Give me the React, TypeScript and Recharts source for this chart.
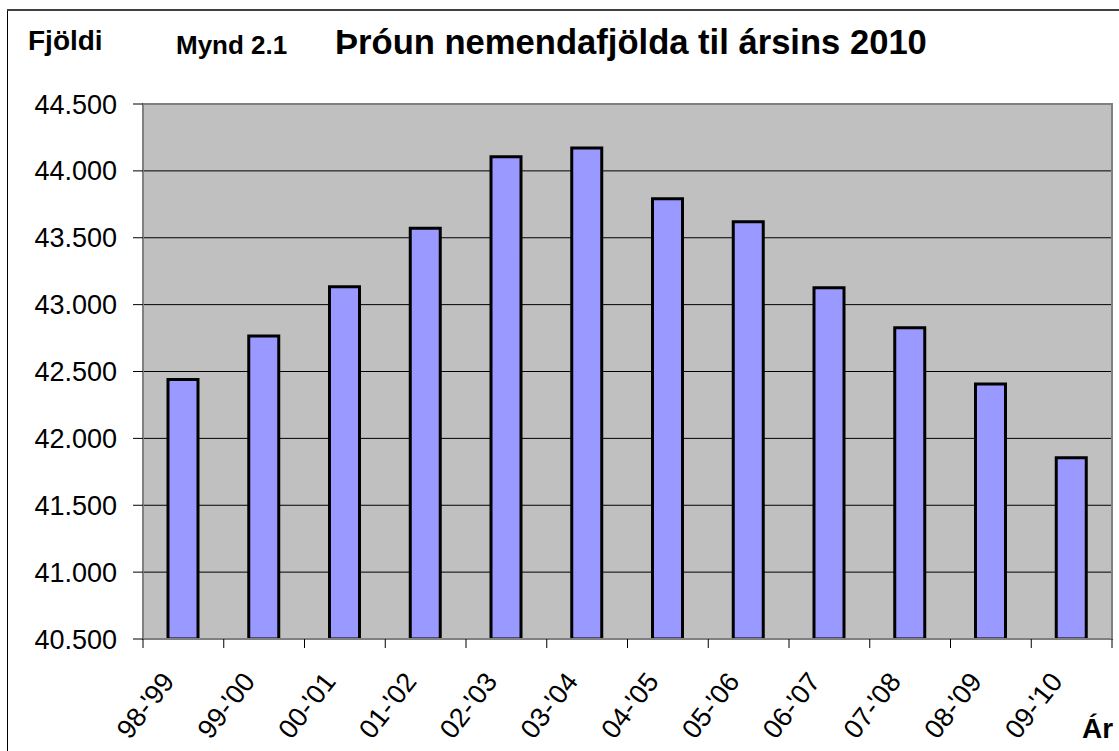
import React from 'react';
import { BarChart, Bar, XAxis, YAxis, CartesianGrid, ReferenceArea } from 'recharts';

const categories = ["98-'99", "99-'00", "00-'01", "01-'02", "02-'03", "03-'04", "04-'05", "05-'06", "06-'07", "07-'08", "08-'09", "09-'10"];
const students = [42440, 42765, 43134, 43571, 44106, 44171, 43792, 43620, 43127, 42828, 42407, 41856];
const yTicks = [40500, 41000, 41500, 42000, 42500, 43000, 43500, 44000, 44500];

const titlePrefix = 'Mynd 2.1';
const titleMain = 'Þróun nemendafjölda til ársins 2010';
const yLabel = 'Fjöldi';
const xLabel = 'Ár';

const data = categories.map((c, i) => ({ year: c, value: students[i] }));

const W = 1119;
const H = 751;
const PLOT_LEFT = 143;
const PLOT_RIGHT = 1112;
const PLOT_TOP = 104;
const PLOT_BOTTOM = 639;
const FONT = 'Arial, "Liberation Sans", Helvetica, sans-serif';

const fmt = (v: number) => `${Math.floor(v / 1000)}.${String(v % 1000).padStart(3, '0')}`;

const XTick = (props: any) => {
  const { x, y, payload } = props;
  const band = (PLOT_RIGHT - PLOT_LEFT) / categories.length;
  const idx = categories.indexOf(payload.value);
  const tx = x - 8;
  const ty = y + 43;
  return (
    <g>
      <line x1={x - band / 2} x2={x - band / 2} y1={y} y2={y + 9} stroke="#000" strokeWidth={1} />
      {idx === categories.length - 1 && (
        <line x1={x + band / 2} x2={x + band / 2} y1={y} y2={y + 9} stroke="#000" strokeWidth={1} />
      )}
      <text
        x={tx}
        y={ty}
        transform={`rotate(-52, ${tx}, ${ty})`}
        textAnchor="end"
        fontSize={27}
        fontFamily={FONT}
        fill="#000"
      >
        {payload.value}
      </text>
    </g>
  );
};

export default function App() {
  return (
    <div style={{ position: 'absolute', left: 0, top: 0, width: W, height: H, background: '#fff', overflow: 'hidden' }}>
      <BarChart
        width={W}
        height={H}
        data={data}
        margin={{ top: PLOT_TOP, right: W - PLOT_RIGHT, bottom: 0, left: 0 }}
        barCategoryGap="30%"
      >
        <CartesianGrid vertical={false} stroke="#000" strokeWidth={1} fill="#C0C0C0" fillOpacity={1} strokeOpacity={1} />
        <XAxis
          dataKey="year"
          height={H - PLOT_BOTTOM}
          interval={0}
          tickSize={0}
          tickMargin={0}
          tickLine={false}
          axisLine={{ stroke: '#808080', strokeWidth: 2 }}
          tick={<XTick />}
        />
        <YAxis
          width={PLOT_LEFT}
          domain={[40500, 44500]}
          ticks={yTicks}
          allowDataOverflow
          interval={0}
          tickFormatter={fmt}
          tickSize={10}
          tickMargin={16}
          tickLine={{ stroke: '#000', strokeWidth: 1 }}
          axisLine={{ stroke: '#808080', strokeWidth: 2 }}
          tick={{ fontSize: 27, fill: '#000', fontFamily: FONT }}
        />
        <Bar dataKey="value" fill="#9999FF" stroke="#000" strokeWidth={3} barSize={30} isAnimationActive={false} />
        <ReferenceArea y1={40500} y2={44500} fill="none" stroke="#808080" strokeWidth={2} ifOverflow="visible" />
      </BarChart>
      <svg width={W} height={H} style={{ position: 'absolute', left: 0, top: 0, pointerEvents: 'none' }}>
        <line x1={7.5} x2={7.5} y1={10} y2={H} stroke="#000" strokeWidth={1} />
        <line x1={7} x2={W} y1={10} y2={10} stroke="#404040" strokeWidth={2} />
        <text x={28} y={50} fontSize={28} fontWeight="bold" fontFamily={FONT} fill="#000">{yLabel}</text>
        <text x={176} y={54} fontSize={26} fontWeight="bold" fontFamily={FONT} fill="#000">{titlePrefix}</text>
        <text x={335} y={54} fontSize={34.6} fontWeight="bold" fontFamily={FONT} fill="#000">{titleMain}</text>
        <text x={1082} y={738} fontSize={28} fontWeight="bold" fontFamily={FONT} fill="#000">{xLabel}</text>
      </svg>
    </div>
  );
}
